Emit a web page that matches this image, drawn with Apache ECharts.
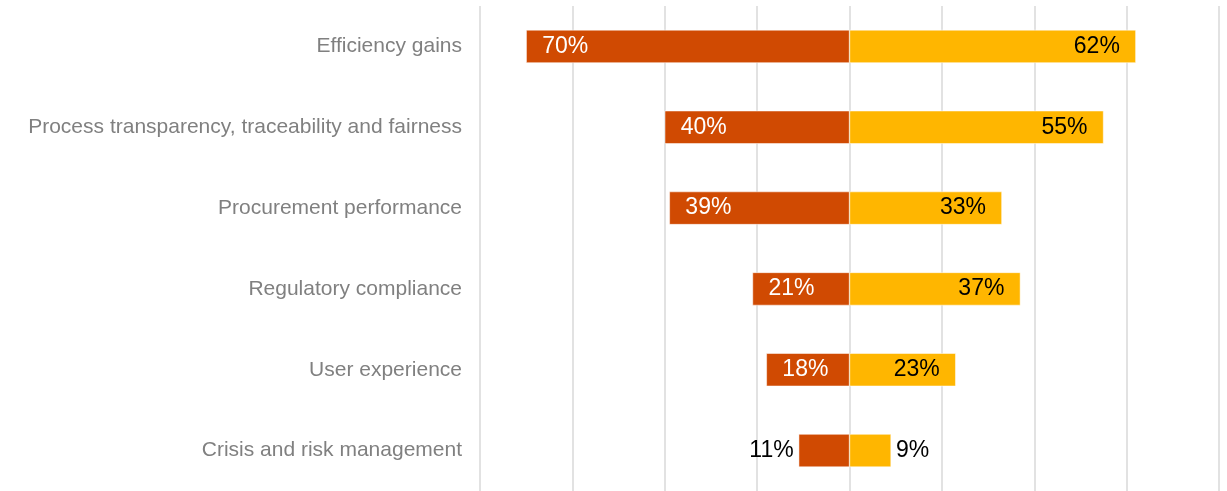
<!DOCTYPE html>
<html>
<head>
<meta charset="utf-8">
<script src="https://cdn.jsdelivr.net/npm/echarts@6/dist/echarts.min.js"></script>
<style>
  html, body { margin: 0; padding: 0; background: #fff; }
  #chart { width: 1227px; height: 491px; }
</style>
</head>
<body>
<div id="chart"></div>
<script>
var categories = ['Efficiency gains', 'Process transparency, traceability and fairness', 'Procurement performance', 'Regulatory compliance', 'User experience', 'Crisis and risk management'];
var leftValues = [70, 40, 39, 21, 18, 11];
var rightValues = [62, 55, 33, 37, 23, 9];

var myChart = echarts.init(document.getElementById('chart'));
var option;

// small bars get their label outside
function leftData() {
  return leftValues.map(function (v) {
    var item = { value: -v };
    if (v < 15) {
      item.label = { position: 'left', distance: 5, color: '#000000' };
    }
    return item;
  });
}
function rightData() {
  return rightValues.map(function (v) {
    var item = { value: v };
    if (v < 15) {
      item.label = { position: 'right', distance: 5 };
    }
    return item;
  });
}

option = {
  animation: false,
  grid: {
    left: 480,
    right: 8,
    top: 6,
    bottom: -2,
    containLabel: false
  },
  xAxis: {
    type: 'value',
    min: -80,
    max: 80,
    interval: 20,
    axisLabel: { show: false },
    axisLine: { show: false },
    axisTick: { show: false },
    splitLine: {
      lineStyle: { color: '#d9d9d9', width: 1.5 }
    }
  },
  yAxis: {
    type: 'category',
    inverse: true,
    data: categories,
    axisLine: { show: false },
    axisTick: { show: false },
    axisLabel: {
      color: '#808080',
      fontSize: 21,
      fontFamily: 'Liberation Sans, Arial, sans-serif',
      margin: 18
    }
  },
  series: [{
    name: 'left',
    type: 'bar',
    stack: 'total',
    barWidth: 33,
    data: leftData(),
    itemStyle: { color: '#d04a02', borderColor: '#ffffff', borderWidth: 0.5 },
    label: {
      show: true,
      position: 'insideLeft',
      distance: 16,
      color: '#ffffff',
      fontSize: 23,
      fontFamily: 'Liberation Sans, Arial, sans-serif',
      formatter: function (p) { return Math.abs(p.value) + '%'; }
    }
  }, {
    name: 'right',
    type: 'bar',
    stack: 'total',
    barWidth: 33,
    data: rightData(),
    itemStyle: { color: '#ffb600', borderColor: '#ffffff', borderWidth: 0.5 },
    label: {
      show: true,
      position: 'insideRight',
      distance: 16,
      color: '#000000',
      fontSize: 23,
      fontFamily: 'Liberation Sans, Arial, sans-serif',
      formatter: function (p) { return p.value + '%'; }
    }
  }]
};

myChart.setOption(option);
window.addEventListener('resize', function () {
  myChart.resize();
});
</script>
</body>
</html>
